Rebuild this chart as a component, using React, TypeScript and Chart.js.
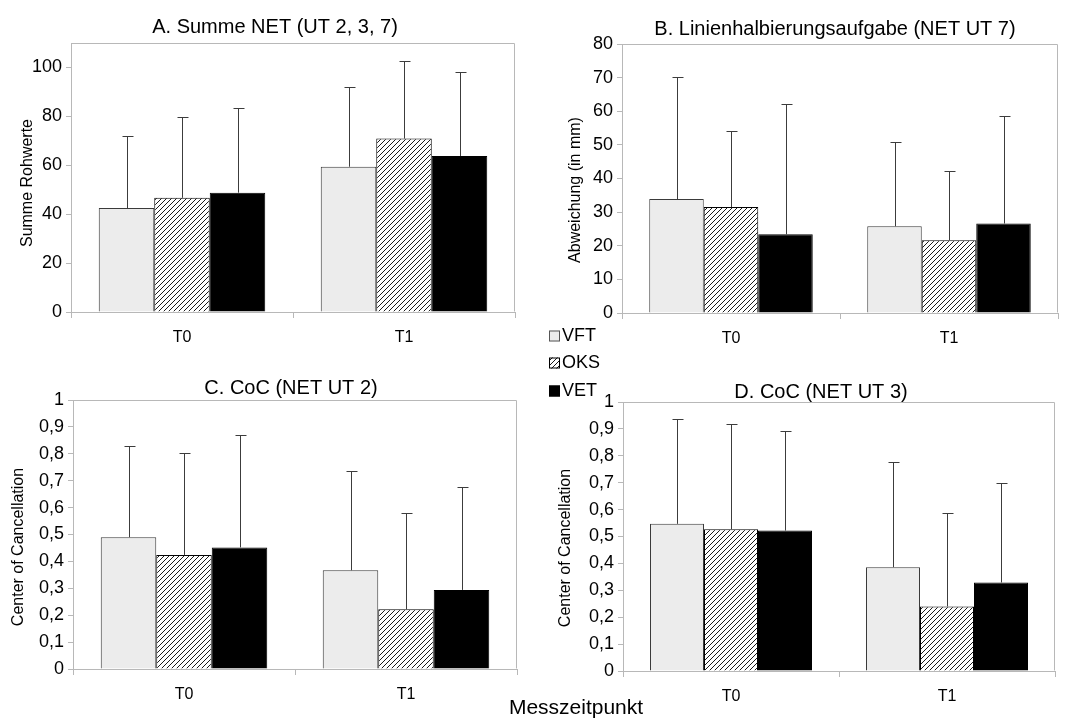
import { useEffect, useRef } from "react";
import { Chart, registerables } from "chart.js";

Chart.register(...registerables);

const W = 1079;
const H = 722;
const FONT = "'Liberation Sans', Arial, Helvetica, sans-serif";

const CATEGORIES = ["T0", "T1"];
const SERIES = ["VFT", "OKS", "VET"];
const X_TITLE = "Messzeitpunkt";

// A. Summe NET (UT 2, 3, 7)
const A_VFT = [42.5, 59.4];
const A_OKS = [46.7, 70.9];
const A_VET = [48.8, 63.8];
const A_VFT_TOP = [71.8, 92.1];
const A_OKS_TOP = [79.6, 102.7];
const A_VET_TOP = [83.4, 98.2];

// B. Linienhalbierungsaufgabe (NET UT 7)
const B_VFT = [33.9, 25.8];
const B_OKS = [31.5, 21.6];
const B_VET = [23.4, 26.6];
const B_VFT_TOP = [70.1, 51.0];
const B_OKS_TOP = [54.0, 42.2];
const B_VET_TOP = [62.1, 58.7];

// C. CoC (NET UT 2)
const C_VFT = [0.49, 0.367];
const C_OKS = [0.424, 0.222];
const C_VET = [0.452, 0.294];
const C_VFT_TOP = [0.829, 0.736];
const C_OKS_TOP = [0.803, 0.581];
const C_VET_TOP = [0.871, 0.675];

// D. CoC (NET UT 3)
const D_VFT = [0.547, 0.386];
const D_OKS = [0.527, 0.24];
const D_VET = [0.522, 0.329];
const D_VFT_TOP = [0.938, 0.778];
const D_OKS_TOP = [0.918, 0.589];
const D_VET_TOP = [0.893, 0.7];

type Panel = {
  title: string;
  yTitle: string;
  values: number[][];
  tops: number[][];
  yMax: number;
  yStep: number;
  yLabelMax: number;
  comma: boolean;
  area: { l: number; t: number; r: number; b: number };
  titleX: number;
  titleY: number;
  yTitleX: number;
  yTitleY: number;
  extras: boolean;
};

const PANELS: Panel[] = [
  {
    title: "A. Summe NET (UT 2, 3, 7)",
    yTitle: "Summe Rohwerte",
    values: [A_VFT, A_OKS, A_VET],
    tops: [A_VFT_TOP, A_OKS_TOP, A_VET_TOP],
    yMax: 110,
    yStep: 20,
    yLabelMax: 100,
    comma: false,
    area: { l: 71, t: 43, r: 515, b: 312 },
    titleX: 275,
    titleY: 33,
    yTitleX: 28,
    yTitleY: 183,
    extras: false,
  },
  {
    title: "B. Linienhalbierungsaufgabe (NET UT 7)",
    yTitle: "Abweichung (in mm)",
    values: [B_VFT, B_OKS, B_VET],
    tops: [B_VFT_TOP, B_OKS_TOP, B_VET_TOP],
    yMax: 80,
    yStep: 10,
    yLabelMax: 80,
    comma: false,
    area: { l: 622, t: 44, r: 1058, b: 313 },
    titleX: 835,
    titleY: 35,
    yTitleX: 576,
    yTitleY: 190,
    extras: false,
  },
  {
    title: "C. CoC (NET UT 2)",
    yTitle: "Center of Cancellation",
    values: [C_VFT, C_OKS, C_VET],
    tops: [C_VFT_TOP, C_OKS_TOP, C_VET_TOP],
    yMax: 1,
    yStep: 0.1,
    yLabelMax: 1,
    comma: true,
    area: { l: 73, t: 400, r: 517, b: 669 },
    titleX: 291,
    titleY: 394,
    yTitleX: 19,
    yTitleY: 547,
    extras: false,
  },
  {
    title: "D. CoC (NET UT 3)",
    yTitle: "Center of Cancellation",
    values: [D_VFT, D_OKS, D_VET],
    tops: [D_VFT_TOP, D_OKS_TOP, D_VET_TOP],
    yMax: 1,
    yStep: 0.1,
    yLabelMax: 1,
    comma: true,
    area: { l: 623, t: 402, r: 1055, b: 671 },
    titleX: 821,
    titleY: 398,
    yTitleX: 566,
    yTitleY: 548,
    extras: true,
  },
];

function makeHatch(): CanvasPattern | string {
  const c = document.createElement("canvas");
  c.width = 5;
  c.height = 5;
  const g = c.getContext("2d");
  if (!g) return "#888";
  g.fillStyle = "#ffffff";
  g.fillRect(0, 0, 5, 5);
  g.strokeStyle = "#000000";
  g.lineWidth = 0.9;
  g.beginPath();
  g.moveTo(-1, 6);
  g.lineTo(6, -1);
  g.moveTo(-1, 1);
  g.lineTo(1, -1);
  g.moveTo(4, 6);
  g.lineTo(6, 4);
  g.stroke();
  return g.createPattern(c, "repeat") || "#888";
}

const FILLS = ["#ececec", "hatch", "#000000"];
const BORDERS = ["#3a3a3a", "#000000", "#000000"];

function PanelChart({ panel }: { panel: Panel }) {
  const ref = useRef<HTMLCanvasElement | null>(null);
  useEffect(() => {
    const canvas = ref.current;
    if (!canvas) return;
    const hatch = makeHatch();
    const YW = 50;
    const XH = 34;
    const { l, t, r, b } = panel.area;

    const deco = {
      id: "deco",
      beforeDatasetsDraw(chart: any) {
        const ctx = chart.ctx;
        const a = chart.chartArea;
        ctx.save();
        ctx.strokeStyle = "#b8b8b8";
        ctx.lineWidth = 1;
        ctx.beginPath();
        const L = Math.round(a.left) + 0.5;
        const R = Math.round(a.right) - 0.5;
        const T = Math.round(a.top) + 0.5;
        const B = Math.round(a.bottom) - 0.5;
        ctx.moveTo(L, T);
        ctx.lineTo(R, T);
        ctx.lineTo(R, B);
        ctx.stroke();
        ctx.restore();
      },
      afterDatasetsDraw(chart: any) {
        const ctx = chart.ctx;
        const ys = chart.scales.y;
        ctx.save();
        ctx.strokeStyle = "#3c3c3c";
        ctx.lineWidth = 1;
        ctx.beginPath();
        chart.data.datasets.forEach((ds: any, di: number) => {
          const meta = chart.getDatasetMeta(di);
          meta.data.forEach((el: any, i: number) => {
            const x = Math.round(el.x) + 0.5;
            const yt = Math.round(ys.getPixelForValue(panel.tops[di][i])) + 0.5;
            ctx.moveTo(x, el.y);
            ctx.lineTo(x, yt);
            ctx.moveTo(x - 5, yt);
            ctx.lineTo(x + 6, yt);
          });
        });
        ctx.stroke();
        ctx.restore();
      },
      afterDraw(chart: any) {
        const ctx = chart.ctx;
        ctx.save();
        ctx.fillStyle = "#000";
        ctx.textAlign = "center";
        ctx.textBaseline = "alphabetic";
        ctx.font = `20px ${FONT}`;
        ctx.fillText(panel.title, panel.titleX, panel.titleY);
        ctx.save();
        ctx.translate(panel.yTitleX, panel.yTitleY);
        ctx.rotate(-Math.PI / 2);
        ctx.font = `16px ${FONT}`;
        ctx.textBaseline = "middle";
        ctx.fillText(panel.yTitle, 0, 0);
        ctx.restore();
        if (panel.extras) {
          ctx.font = `21px ${FONT}`;
          ctx.textAlign = "center";
          ctx.textBaseline = "alphabetic";
          ctx.fillText(X_TITLE, 576, 714);
          const rows = [335.5, 362.5, 390.5];
          chart.data.datasets.forEach((ds: any, di: number) => {
            const cy = rows[di];
            ctx.fillStyle = ds.backgroundColor;
            ctx.fillRect(549, cy - 5, 11, 11);
            ctx.strokeStyle = di === 0 ? "#555" : "#000";
            ctx.lineWidth = 1;
            ctx.strokeRect(549.5, cy - 4.5, 10, 10);
            ctx.fillStyle = "#000";
            ctx.font = `18px ${FONT}`;
            ctx.textAlign = "left";
            ctx.textBaseline = "middle";
            ctx.fillText(ds.label, 562, cy + 1);
          });
        }
        ctx.restore();
      },
    };

    const chart = new Chart(canvas, {
      type: "bar",
      data: {
        labels: CATEGORIES,
        datasets: SERIES.map((name, i) => ({
          label: name,
          data: panel.values[i],
          backgroundColor: FILLS[i] === "hatch" ? (hatch as any) : FILLS[i],
          borderColor: BORDERS[i],
          borderWidth: 1,
          categoryPercentage: 0.75,
          barPercentage: 1.0,
        })),
      },
      options: {
        animation: false,
        responsive: false,
        devicePixelRatio: 1,
        events: [],
        layout: {
          padding: { left: l - YW, top: t, right: W - r, bottom: H - b - XH },
        },
        plugins: {
          legend: { display: false },
          title: { display: false },
          tooltip: { enabled: false },
        },
        scales: {
          x: {
            type: "category",
            offset: true,
            grid: {
              display: true,
              offset: true,
              drawOnChartArea: false,
              drawTicks: true,
              tickLength: 6,
              color: "#b8b8b8",
            },
            border: { display: true, color: "#b8b8b8" },
            ticks: {
              color: "#000",
              font: { family: FONT, size: 16 },
              padding: 10,
            },
            afterFit: (s: any) => {
              s.height = XH;
            },
          },
          y: {
            type: "linear",
            min: 0,
            max: panel.yMax,
            grid: {
              display: true,
              drawOnChartArea: false,
              drawTicks: true,
              tickLength: 5,
              color: "#b8b8b8",
            },
            border: { display: true, color: "#b8b8b8" },
            ticks: {
              stepSize: panel.yStep,
              color: "#000",
              font: { family: FONT, size: 18 },
              padding: 4,
              callback: (v: any) => {
                const n = Number(Number(v).toFixed(2));
                const s = String(n);
                return panel.comma ? s.replace(".", ",") : s;
              },
            },
            afterBuildTicks: (s: any) => {
              s.ticks = s.ticks.filter((tk: any) => tk.value <= panel.yLabelMax + 1e-9);
            },
            afterFit: (s: any) => {
              s.width = YW;
            },
          },
        },
      },
      plugins: [deco as any],
    });
    return () => chart.destroy();
  }, [panel]);

  return (
    <canvas
      ref={ref}
      width={W}
      height={H}
      style={{ position: "absolute", left: 0, top: 0, width: W, height: H }}
    />
  );
}

export default function App() {
  return (
    <div
      style={{
        position: "absolute",
        left: 0,
        top: 0,
        width: W,
        height: H,
        background: "#ffffff",
        overflow: "hidden",
      }}
    >
      {PANELS.map((p, i) => (
        <PanelChart key={i} panel={p} />
      ))}
    </div>
  );
}
